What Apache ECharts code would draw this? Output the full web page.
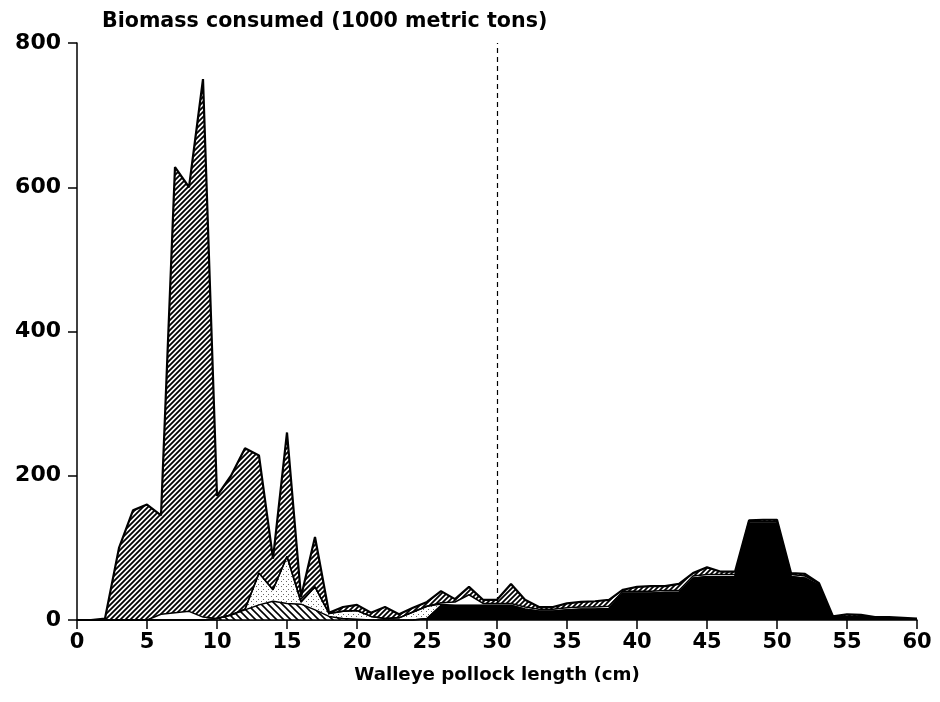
<!DOCTYPE html>
<html>
<head>
<meta charset="utf-8">
<script src="https://cdn.jsdelivr.net/npm/echarts@6/dist/echarts.min.js"></script>
<style>
  html, body { margin: 0; padding: 0; background: #fff; }
  #main { width: 940px; height: 702px; }
</style>
</head>
<body>
<div id="main"></div>
<script>
// lengths 0..60 cm
var lengths = [];
for (var i = 0; i <= 60; i++) lengths.push(String(i));

// biomass per prey layer (1000 t), bottom -> top
var blackVals = [0,0,0,0,0,0,0,0,0,0, 0,0,0,0,0,0,0,0,0,0, 0,0,0,0,0,2,20,20,20,20,
  20,20,15,12,12,14,15,15,16,37, 37,37,38,38,58,60,60,60,134,134,
  134,60,58,48,3,5,5,3,3,2, 1];
var backslashVals = [0,0,0,0,0,0,0,0,0,0, 2,7,14,21,26,23,22,14,5,2, 1,0,0,0,0,0,0,0,0,0,
  0,0,0,0,0,0,0,0,0,0, 0,0,0,0,0,0,0,0,0,0,
  0,0,0,0,0,0,0,0,0,0, 0];
var dottedVals = [0,0,0,0,0,0,0,0,0,0, 0,0,1,44,16,65,3,32,4,10, 12,5,2,3,11,17,2,0,0,0,
  0,0,0,0,0,0,0,0,0,0, 0,0,0,0,0,0,0,0,0,0,
  0,0,0,0,0,0,0,0,0,0, 0];
var whiteVals = [0,0,0,0,0,0,8,10,12,4, 0,0,0,0,0,0,0,0,0,0, 0,0,0,0,0,0,2,5,15,3,
  3,3,3,3,3,3,3,3,3,3, 3,3,3,3,3,3,3,3,3,3,
  3,3,3,2,0,0,0,0,0,0, 0];
var hatchVals = [0,0,2,100,152,160,137,618,588,746, 170,193,223,163,43,172,7,69,1,6,
  8,5,16,5,6,6,16,4,11,5,
  5,27,10,3,3,6,7,8,9,2, 6,7,6,9,4,10,4,4,1,2,
  2,2,3,1,2,3,2,1,1,1, 1];

function hatch(size, lw, back) {
  var c = document.createElement('canvas');
  c.width = size; c.height = size;
  var g = c.getContext('2d');
  g.fillStyle = '#fff'; g.fillRect(0, 0, size, size);
  g.strokeStyle = '#000'; g.lineWidth = lw;
  g.beginPath();
  if (!back) {
    g.moveTo(0, size); g.lineTo(size, 0);
    g.moveTo(-size, size); g.lineTo(size, -size);
    g.moveTo(0, 2 * size); g.lineTo(2 * size, 0);
  } else {
    g.moveTo(0, 0); g.lineTo(size, size);
    g.moveTo(-size, 0); g.lineTo(size, 2 * size);
    g.moveTo(0, -size); g.lineTo(2 * size, size);
  }
  g.stroke();
  return { image: c, repeat: 'repeat' };
}
function dots() {
  var c = document.createElement('canvas');
  c.width = 5; c.height = 5;
  var g = c.getContext('2d');
  g.fillStyle = '#fff'; g.fillRect(0, 0, 5, 5);
  g.fillStyle = '#666';
  g.fillRect(1, 1, 1, 1);
  g.fillRect(3, 4, 1, 1);
  return { image: c, repeat: 'repeat' };
}

var font = 'DejaVu Sans';
var myChart = echarts.init(document.getElementById('main'), null, { renderer: 'canvas' });

function layer(name, vals, fill, lw) {
  return {
    name: name,
    type: 'line',
    stack: 'total',
    data: vals,
    symbol: 'none',
    z: 3,
    lineStyle: { color: '#000', width: lw },
    areaStyle: { color: fill, opacity: 1 }
  };
}

var option = {
  animation: false,
  backgroundColor: '#fff',
  title: {
    text: 'Biomass consumed (1000 metric tons)',
    left: 97, top: 6,
    textStyle: { fontFamily: font, fontWeight: 'bold', fontSize: 20.6, color: '#000' }
  },
  grid: { left: 77, right: 23, top: 43, bottom: 82 },
  xAxis: {
    type: 'category',
    data: lengths,
    boundaryGap: false,
    name: 'Walleye pollock length (cm)',
    nameLocation: 'middle',
    nameGap: 46,
    nameTextStyle: { fontFamily: font, fontWeight: 'bold', fontSize: 18.2, color: '#000' },
    axisLine: { lineStyle: { color: '#000', width: 1.5 } },
    axisTick: { interval: 4, length: 9, lineStyle: { color: '#000', width: 1.5 } },
    axisLabel: { interval: 4, margin: 12, fontFamily: font, fontWeight: 'bold', fontSize: 21, color: '#000' },
    splitLine: { show: false }
  },
  yAxis: {
    type: 'value',
    min: 0, max: 800, interval: 200,
    axisLine: { show: true, lineStyle: { color: '#000', width: 1.5 } },
    axisTick: { show: true, length: 9, lineStyle: { color: '#000', width: 1.5 } },
    axisLabel: { margin: 16, fontFamily: font, fontWeight: 'bold', fontSize: 22, color: '#000' },
    splitLine: { show: false }
  },
  series: [
    {
      type: 'line', data: [], z: 1,
      markLine: {
        silent: true, symbol: 'none', label: { show: false },
        lineStyle: { color: '#000', type: [5, 4], width: 1.2 },
        data: [{ xAxis: '30' }]
      }
    },
    layer('black', blackVals, '#000', 1.5),
    layer('backslash', backslashVals, hatch(7, 1.6, true), 1.5),
    layer('dotted', dottedVals, dots(), 1.5),
    layer('white', whiteVals, '#fff', 1.5),
    layer('hatch', hatchVals, hatch(5, 1.8, false), 2.2)
  ]
};
myChart.setOption(option);
</script>
</body>
</html>
